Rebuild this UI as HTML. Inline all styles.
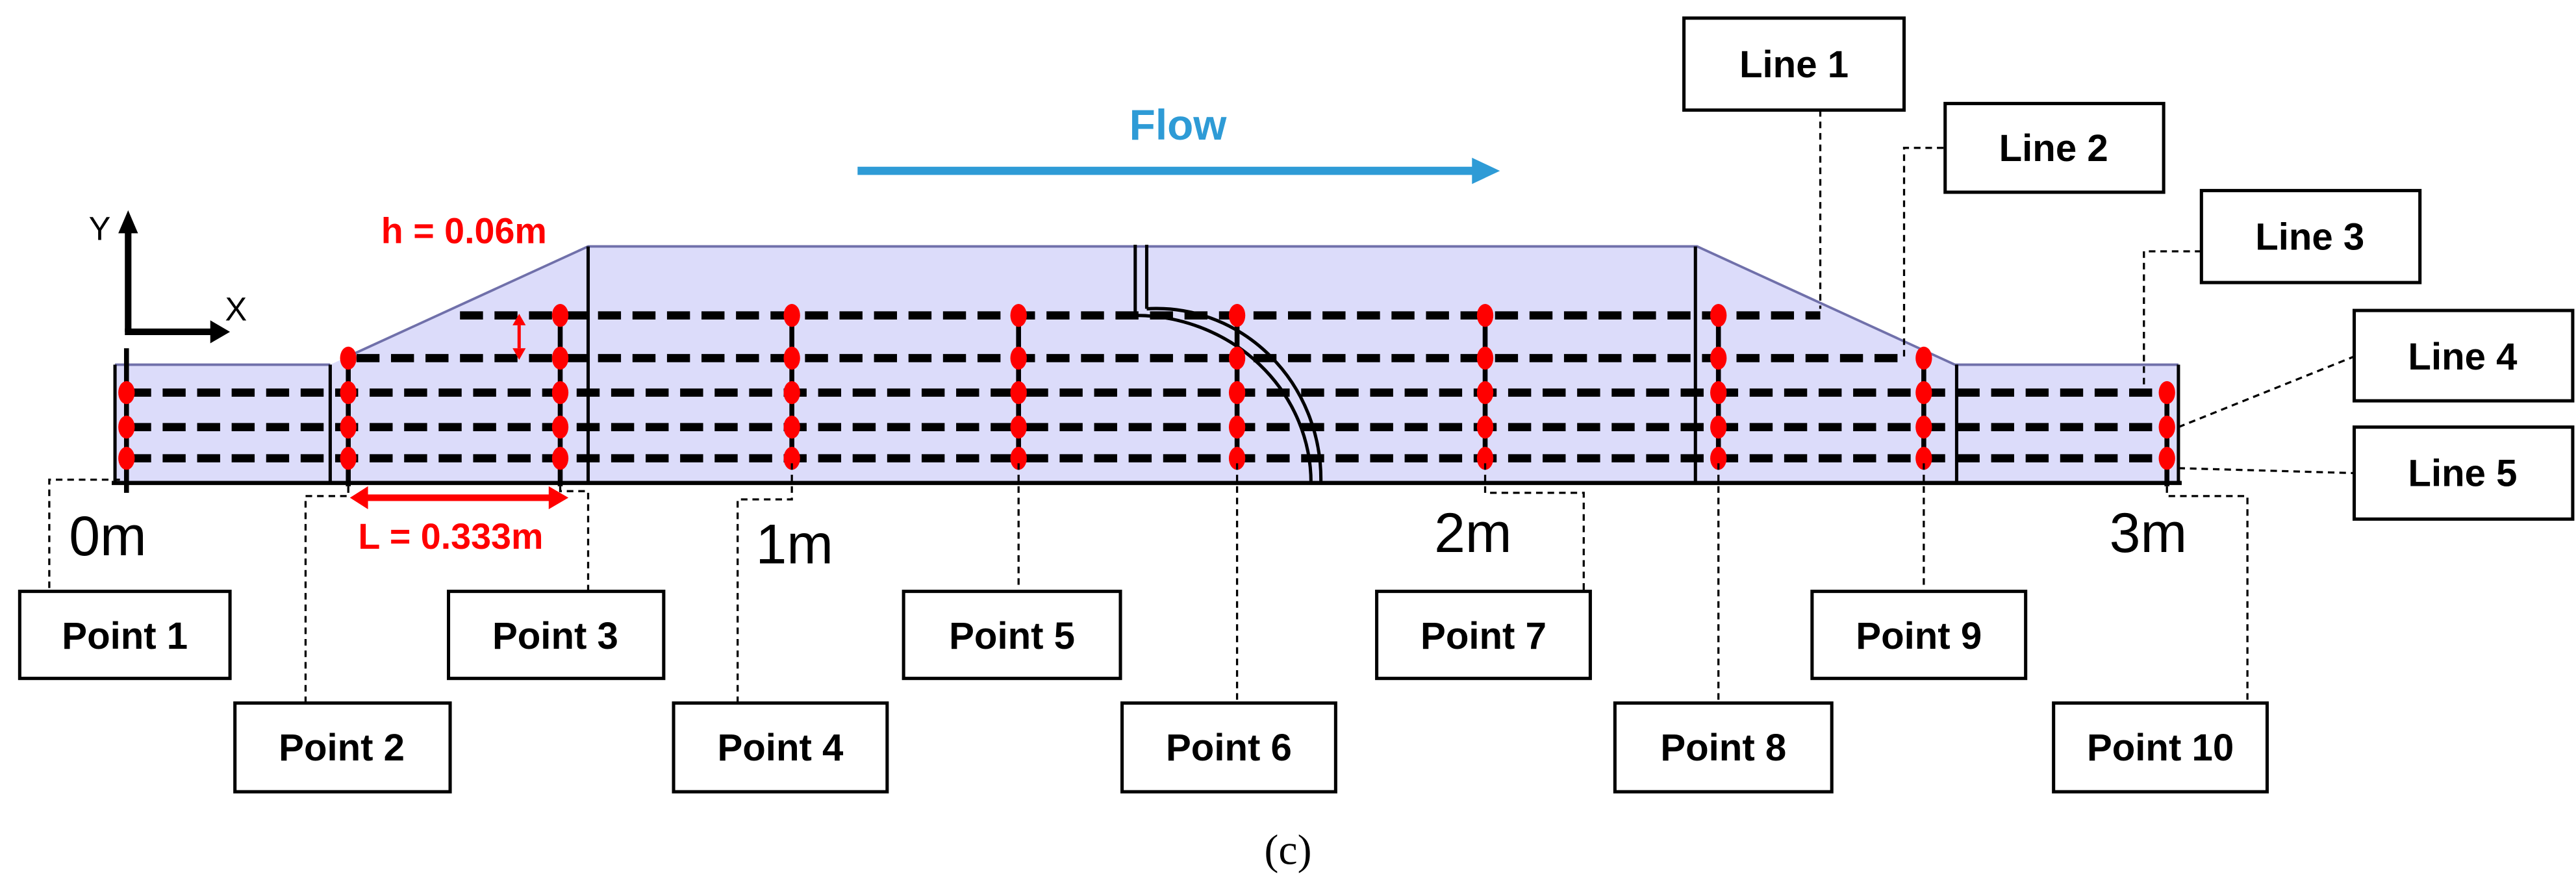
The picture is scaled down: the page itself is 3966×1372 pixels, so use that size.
<!DOCTYPE html>
<html><head><meta charset="utf-8"><style>html,body{margin:0;padding:0;background:#fff}svg{display:block}</style></head>
<body>
<svg width="3966" height="1372" viewBox="0 0 1568 542.4" xmlns="http://www.w3.org/2000/svg" font-family="Liberation Sans, sans-serif">
<defs>
<marker id="ab" markerWidth="6" markerHeight="6" refX="5" refY="3" orient="auto" markerUnits="strokeWidth"><path d="M0,0 L6,3 L0,6 z" fill="#2e9bd6"/></marker>
</defs>
<!-- channel fill -->
<polygon points="70,222 201,222 214,216 358,150 1033,150 1190,222 1326,222 1326,294 70,294" fill="#dcdcfa"/>
<polyline points="70,222 201,222 M214,216" fill="none"/>
<path d="M70,222 L201,222 M214,216 L358,150 L1033,150 L1190,222 L1326,222" fill="none" stroke="#7070aa" stroke-width="1.5"/>
<!-- walls -->
<g stroke="#000" stroke-width="2" fill="none">
<line x1="70" y1="222" x2="70" y2="294"/>
<line x1="201" y1="222" x2="201" y2="294"/>
<line x1="358" y1="150" x2="358" y2="294"/>
<line x1="1032" y1="150" x2="1032" y2="294"/>
<line x1="1191" y1="222" x2="1191" y2="294"/>
<line x1="1326" y1="222" x2="1326" y2="294"/>
<line x1="68" y1="294" x2="1328" y2="294" stroke-width="2.5"/>
<line x1="691" y1="149" x2="691" y2="192"/>
<line x1="698" y1="149" x2="698" y2="188"/>
<path d="M691,192 A107,102 0 0 1 798,294"/>
<path d="M698,188 A100,104 0 0 1 804,294"/>
</g>
<!-- dashed lines -->
<g stroke="#000" stroke-width="5" stroke-dasharray="14,7" fill="none">
<line x1="280" y1="192" x2="1108" y2="192"/>
<line x1="217" y1="218" x2="1158" y2="218"/>
<line x1="78" y1="239" x2="1320" y2="239"/>
<line x1="78" y1="260" x2="1320" y2="260"/>
<line x1="78" y1="279" x2="1320" y2="279"/>
</g>
<!-- point verticals -->
<g stroke="#000" stroke-width="3">
<line x1="77" y1="212" x2="77" y2="300"/>
<line x1="212" y1="218" x2="212" y2="296"/>
<line x1="341" y1="192" x2="341" y2="296"/>
<line x1="482" y1="192" x2="482" y2="282"/>
<line x1="620" y1="192" x2="620" y2="282"/>
<line x1="753" y1="192" x2="753" y2="282"/>
<line x1="904" y1="192" x2="904" y2="282"/>
<line x1="1046" y1="192" x2="1046" y2="282"/>
<line x1="1171" y1="218" x2="1171" y2="282"/>
<line x1="1319" y1="239" x2="1319" y2="296"/>
</g>
<!-- red dots -->
<g fill="#f00">
<ellipse cx="77" cy="239" rx="5" ry="7"/><ellipse cx="77" cy="260" rx="5" ry="7"/><ellipse cx="77" cy="279" rx="5" ry="7"/>
<ellipse cx="212" cy="218" rx="5" ry="7"/><ellipse cx="212" cy="239" rx="5" ry="7"/><ellipse cx="212" cy="260" rx="5" ry="7"/><ellipse cx="212" cy="279" rx="5" ry="7"/>
<g id="c5"><ellipse cx="341" cy="192" rx="5" ry="7"/><ellipse cx="341" cy="218" rx="5" ry="7"/><ellipse cx="341" cy="239" rx="5" ry="7"/><ellipse cx="341" cy="260" rx="5" ry="7"/><ellipse cx="341" cy="279" rx="5" ry="7"/></g>
<use href="#c5" x="141"/><use href="#c5" x="279"/><use href="#c5" x="412"/><use href="#c5" x="563"/><use href="#c5" x="705"/>
<ellipse cx="1171" cy="218" rx="5" ry="7"/><ellipse cx="1171" cy="239" rx="5" ry="7"/><ellipse cx="1171" cy="260" rx="5" ry="7"/><ellipse cx="1171" cy="279" rx="5" ry="7"/>
<ellipse cx="1319" cy="239" rx="5" ry="7"/><ellipse cx="1319" cy="260" rx="5" ry="7"/><ellipse cx="1319" cy="279" rx="5" ry="7"/>
</g>
<!-- axes -->
<g stroke="#000" stroke-width="4" fill="none"><line x1="78" y1="140" x2="78" y2="202"/><line x1="76" y1="202" x2="130" y2="202"/></g>
<path d="M72,142 L78,128 L84,142 z M128,195 L140,202 L128,209 z" fill="#000"/>
<text x="54" y="146" font-size="20">Y</text>
<text x="137" y="195" font-size="20">X</text>
<!-- red dims -->
<text x="232" y="148" font-size="22" font-weight="bold" fill="#f00">h = 0.06m</text>
<g stroke="#f00" stroke-width="2" fill="#f00"><line x1="316" y1="198" x2="316" y2="212"/><path d="M312,198 L316,191 L320,198 z M312,212 L316,219 L320,212 z" stroke="none"/></g>
<line x1="222" y1="303" x2="336" y2="303" stroke="#f00" stroke-width="4"/>
<path d="M224,296 L213,303 L224,310 z M334,296 L346,303 L334,310 z" fill="#f00"/>
<text x="218" y="334" font-size="22" font-weight="bold" fill="#f00">L = 0.333m</text>
<!-- flow -->
<line x1="522" y1="104" x2="900" y2="104" stroke="#2e9bd6" stroke-width="5"/>
<path d="M896,96 L913,104 L896,112 z" fill="#2e9bd6"/>
<text x="717" y="85" font-size="26" font-weight="bold" fill="#2e9bd6" text-anchor="middle">Flow</text>
<!-- meter labels -->
<g font-size="34" fill="#000"><text x="42" y="338">0m</text><text x="460" y="343">1m</text><text x="873" y="336">2m</text><text x="1284" y="336">3m</text></g>
<!-- leaders -->
<g stroke="#000" stroke-width="1.3" stroke-dasharray="4,3" fill="none">
<polyline points="73,292 30,292 30,360"/>
<polyline points="212,296 212,302 186,302 186,428"/>
<polyline points="341,296 341,299 358,299 358,360"/>
<polyline points="482,282 482,304 449,304 449,428"/>
<polyline points="620,282 620,360"/>
<polyline points="753,282 753,428"/>
<polyline points="904,282 904,300 964,300 964,360"/>
<polyline points="1046,282 1046,428"/>
<polyline points="1171,282 1171,360"/>
<polyline points="1319,296 1319,302 1368,302 1368,428"/>
<polyline points="1108,67 1108,188"/>
<polyline points="1183,90 1159,90 1159,217"/>
<polyline points="1340,153 1305,153 1305,239"/>
<polyline points="1326,260 1433,217"/>
<polyline points="1326,285 1433,288"/>
</g>
<!-- boxes -->
<g fill="#fff" stroke="#000" stroke-width="2">
<rect x="12" y="360" width="128" height="53"/><rect x="143" y="428" width="131" height="54"/>
<rect x="273" y="360" width="131" height="53"/><rect x="410" y="428" width="130" height="54"/>
<rect x="550" y="360" width="132" height="53"/><rect x="683" y="428" width="130" height="54"/>
<rect x="838" y="360" width="130" height="53"/><rect x="983" y="428" width="132" height="54"/>
<rect x="1103" y="360" width="130" height="53"/><rect x="1250" y="428" width="130" height="54"/>
<rect x="1025" y="11" width="134" height="56"/><rect x="1184" y="63" width="133" height="54"/>
<rect x="1340" y="116" width="133" height="56"/><rect x="1433" y="189" width="133" height="55"/>
<rect x="1433" y="260" width="133" height="56"/>
</g>
<g font-size="23" font-weight="bold" text-anchor="middle" fill="#000">
<text x="76" y="395">Point 1</text><text x="208" y="463">Point 2</text>
<text x="338" y="395">Point 3</text><text x="475" y="463">Point 4</text>
<text x="616" y="395">Point 5</text><text x="748" y="463">Point 6</text>
<text x="903" y="395">Point 7</text><text x="1049" y="463">Point 8</text>
<text x="1168" y="395">Point 9</text><text x="1315" y="463">Point 10</text>
<text x="1092" y="47">Line 1</text><text x="1250" y="98">Line 2</text>
<text x="1406" y="152">Line 3</text><text x="1499" y="225">Line 4</text>
<text x="1499" y="296">Line 5</text>
</g>
<text x="784" y="526" font-size="26" font-family="Liberation Serif, serif" text-anchor="middle">(c)</text>
</svg>
</body></html>
